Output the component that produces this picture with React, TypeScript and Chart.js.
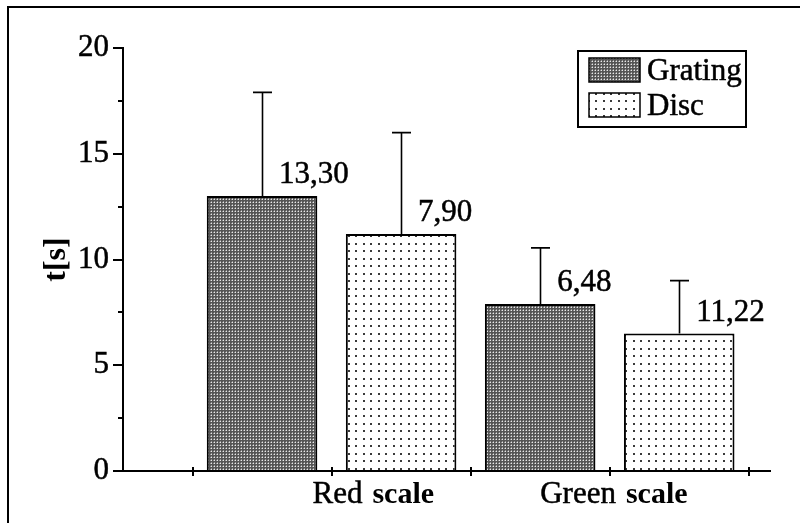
import { useEffect, useRef } from 'react';
import { Chart, registerables } from 'chart.js';
Chart.register(...registerables);

// ---- data ----
const seriesNames = ['Grating', 'Disc'];
const gratingX = [1, 3];
const gratingValues = [13.0, 7.9];
const gratingErrors = [4.9, 2.65];
const gratingNotes = ['13,30', '6,48'];
const discX = [2, 4];
const discValues = [11.2, 6.5];
const discErrors = [4.8, 2.5];
const discNotes = ['7,90', '11,22'];
const groupLabels = [['Red', 'scale'], ['Green', 'scale']];
const groupCenters = [1.8, 3.53];
const xTickValues = [0.5, 1.5, 2.5, 3.5, 4.5];
const yMinorTicks = [2.5, 7.5, 12.5, 17.5];
const yTitle = 't[s]';

const FONT = '"Liberation Serif", "Times New Roman", serif';
const FS = 31;
const STROKE = 0.5;

function makeGratingPattern(ctx: CanvasRenderingContext2D) {
  const t = document.createElement('canvas');
  t.width = 3; t.height = 3;
  const c = t.getContext('2d')!;
  c.fillStyle = '#555555';
  c.fillRect(0, 0, 3, 3);
  c.fillStyle = '#e8e8e8';
  c.fillRect(1, 1, 1, 1);
  c.fillStyle = '#959595';
  c.fillRect(0, 1, 1, 1);
  c.fillRect(1, 0, 1, 1);
  return ctx.createPattern(t, 'repeat')!;
}

function makeDiscPattern(ctx: CanvasRenderingContext2D) {
  const t = document.createElement('canvas');
  t.width = 15; t.height = 15;
  const c = t.getContext('2d')!;
  c.fillStyle = '#ffffff';
  c.fillRect(0, 0, 15, 15);
  c.fillStyle = '#3a3a3a';
  for (const px of [3, 10]) for (const py of [3, 10]) c.fillRect(px, py, 2, 2);
  return ctx.createPattern(t, 'repeat')!;
}

function heavyText(ctx: CanvasRenderingContext2D, text: string, x: number, y: number) {
  ctx.fillText(text, x, y);
  ctx.save();
  ctx.lineWidth = STROKE;
  ctx.strokeStyle = '#000';
  ctx.strokeText(text, x, y);
  ctx.restore();
}

export default function App() {
  const ref = useRef<HTMLCanvasElement>(null);
  useEffect(() => {
    const canvas = ref.current!;
    const ctx0 = canvas.getContext('2d')!;
    const gratingFill = makeGratingPattern(ctx0);
    const discFill = makeDiscPattern(ctx0);
    const errors = [gratingErrors, discErrors];
    const notes = [gratingNotes, discNotes];

    const custom = {
      id: 'custom',
      beforeDraw(chart: any) {
        const ctx = chart.ctx;
        ctx.save();
        ctx.fillStyle = '#fff';
        ctx.fillRect(0, 0, chart.width, chart.height);
        ctx.strokeStyle = '#000';
        ctx.lineWidth = 2;
        ctx.strokeRect(8, 7, chart.width + 50, chart.height + 50);
        ctx.restore();
      },
      afterDatasetsDraw(chart: any) {
        const ctx = chart.ctx;
        const xs = chart.scales.x;
        const ys = chart.scales.y;
        const area = chart.chartArea;
        ctx.save();
        ctx.strokeStyle = '#000';
        ctx.fillStyle = '#000';
        // error bars and notes
        chart.data.datasets.forEach((ds: any, di: number) => {
          const meta = chart.getDatasetMeta(di);
          meta.data.forEach((el: any, j: number) => {
            const v = ds.data[j].y;
            const top = ys.getPixelForValue(v + errors[di][j]);
            const x = Math.round(el.x) + 0.5;
            ctx.lineWidth = 1.6;
            ctx.beginPath();
            ctx.moveTo(x, el.y);
            ctx.lineTo(x, top);
            ctx.moveTo(x - 9.5, top);
            ctx.lineTo(x + 9.5, top);
            ctx.stroke();
            ctx.font = `${FS}px ${FONT}`;
            ctx.textAlign = 'left';
            ctx.textBaseline = 'alphabetic';
            heavyText(ctx, notes[di][j], el.x + 17, el.y - 13);
          });
        });
        // x axis
        const y0 = ys.getPixelForValue(0);
        ctx.lineWidth = 2;
        ctx.beginPath();
        ctx.moveTo(area.left, y0);
        ctx.lineTo(area.right, y0);
        ctx.stroke();
        xs.ticks.forEach((t: any) => {
          const px = Math.round(xs.getPixelForValue(t.value));
          ctx.beginPath();
          ctx.moveTo(px, y0 - 4);
          ctx.lineTo(px, y0 + 5);
          ctx.stroke();
        });
        // y minor ticks
        yMinorTicks.forEach((v) => {
          const py = Math.round(ys.getPixelForValue(v));
          ctx.beginPath();
          ctx.moveTo(area.left - 5, py);
          ctx.lineTo(area.left, py);
          ctx.stroke();
        });
        // group labels
        ctx.textBaseline = 'alphabetic';
        groupLabels.forEach((parts, i) => {
          ctx.font = `${FS}px ${FONT}`;
          const w1 = ctx.measureText(parts[0]).width;
          ctx.font = `bold ${FS - 1}px ${FONT}`;
          const w2 = ctx.measureText(parts[1]).width;
          const gap = 10;
          const total = w1 + gap + w2;
          const cx = xs.getPixelForValue(groupCenters[i]);
          const left = cx - total / 2;
          ctx.textAlign = 'left';
          ctx.font = `${FS}px ${FONT}`;
          heavyText(ctx, parts[0], left, 503);
          ctx.font = `bold ${FS - 1}px ${FONT}`;
          ctx.fillText(parts[1], left + w1 + gap, 503);
        });
        // legend
        ctx.lineWidth = 2;
        ctx.strokeRect(578, 51, 168, 76);
        const fills = [gratingFill, discFill];
        const rows = [58, 93];
        seriesNames.forEach((name, i) => {
          ctx.fillStyle = fills[i];
          ctx.fillRect(589, rows[i], 51, 24);
          ctx.lineWidth = 1.5;
          ctx.strokeRect(589, rows[i], 51, 24);
          ctx.fillStyle = '#000';
          ctx.font = `${FS}px ${FONT}`;
          ctx.textAlign = 'left';
          heavyText(ctx, name, 647, rows[i] + 22);
        });
        ctx.restore();
      },
    };

    const chart = new Chart(canvas, {
      type: 'bar',
      data: {
        datasets: [
          {
            label: seriesNames[0],
            data: gratingX.map((x, i) => ({ x, y: gratingValues[i] })),
            backgroundColor: gratingFill as any,
            borderColor: '#000',
            borderWidth: 2,
            borderSkipped: 'start',
          },
          {
            label: seriesNames[1],
            data: discX.map((x, i) => ({ x, y: discValues[i] })),
            backgroundColor: discFill as any,
            borderColor: '#000',
            borderWidth: 2,
            borderSkipped: 'start',
          },
        ],
      },
      options: {
        animation: false,
        responsive: false,
        devicePixelRatio: 1,
        grouped: false,
        categoryPercentage: 1,
        barPercentage: 0.795,
        layout: { padding: { left: 0, right: 29, top: 48, bottom: 52 } },
        plugins: { legend: { display: false }, tooltip: { enabled: false } },
        scales: {
          x: {
            type: 'linear',
            min: 0,
            max: 4.66,
            offset: false,
            grid: { offset: false },
            display: false,
            afterBuildTicks: (s: any) => {
              s.ticks = xTickValues.map((v) => ({ value: v }));
            },
          },
          y: {
            min: 0,
            max: 20,
            ticks: {
              stepSize: 5,
              color: '#000',
              padding: 4,
              font: { family: FONT, size: FS },
              textStrokeColor: '#000',
              textStrokeWidth: STROKE,
            },
            grid: { drawOnChartArea: false, drawTicks: true, tickLength: 10, color: '#000', lineWidth: 2 },
            border: { display: true, color: '#000', width: 2 },
            title: {
              display: true,
              text: yTitle,
              color: '#000',
              font: { family: FONT, size: FS + 1, weight: 'bold' },
              padding: { top: 38, bottom: 0 },
            },
            afterFit: (s: any) => {
              s.width = 123;
            },
          },
        },
      } as any,
      plugins: [custom],
    });
    return () => chart.destroy();
  }, []);
  return (
    <div style={{ position: 'fixed', left: 0, top: 0, width: 800, height: 523, background: '#fff' }}>
      <canvas ref={ref} width={800} height={523} style={{ display: 'block' }} />
    </div>
  );
}
